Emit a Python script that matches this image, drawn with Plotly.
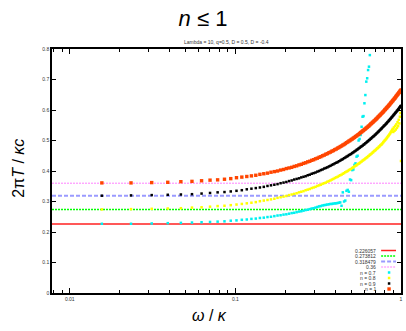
import plotly.graph_objects as go

# ---------------- data ----------------
# omega grid index: omega = k / 128
k_index = list(range(2, 129))
omega = [k / 128 for k in k_index]

series_n07 = [  # cyan, k = 2 .. 83
    0.227, 0.227, 0.228, 0.229, 0.230, 0.231, 0.232, 0.233, 0.234,
    0.235, 0.237, 0.238, 0.240, 0.241, 0.243, 0.244, 0.246, 0.247, 0.249,
    0.250, 0.252, 0.254, 0.255, 0.257, 0.258, 0.260, 0.262, 0.263, 0.265,
    0.267, 0.268, 0.270, 0.272, 0.273, 0.275, 0.277, 0.278, 0.280, 0.282,
    0.284, 0.285, 0.287, 0.288, 0.289, 0.290, 0.291, 0.292, 0.292, 0.293,
    0.294, 0.294, 0.295, 0.296, 0.297, 0.286, 0.330, 0.300, 0.303, 0.335,
    0.338, 0.332, 0.372, 0.370, 0.403, 0.405, 0.420, 0.425, 0.447, 0.450,
    0.500, 0.505, 0.518, 0.545, 0.578, 0.580, 0.622, 0.649, 0.693, 0.704,
    0.731, 0.742, 0.780,
]
series_n08 = [  # yellow
    0.274, 0.275, 0.276, 0.277, 0.278, 0.280, 0.281, 0.283, 0.285,
    0.286, 0.288, 0.290, 0.292, 0.294, 0.296, 0.298, 0.301, 0.303, 0.305,
    0.307, 0.309, 0.312, 0.314, 0.316, 0.318, 0.321, 0.323, 0.325, 0.327,
    0.330, 0.332, 0.334, 0.337, 0.339, 0.341, 0.344, 0.346, 0.348, 0.351,
    0.353, 0.355, 0.358, 0.360, 0.362, 0.365, 0.367, 0.369, 0.372, 0.374,
    0.377, 0.379, 0.381, 0.384, 0.386, 0.388, 0.391, 0.393, 0.396, 0.398,
    0.400, 0.403, 0.405, 0.407, 0.410, 0.412, 0.415, 0.417, 0.419, 0.422,
    0.424, 0.426, 0.429, 0.431, 0.434, 0.436, 0.438, 0.441, 0.443, 0.445,
    0.448, 0.450, 0.453, 0.455, 0.457, 0.460, 0.462, 0.465, 0.467, 0.469,
    0.472, 0.474, 0.476, 0.479, 0.481, 0.484, 0.486, 0.488, 0.491, 0.494,
    0.497, 0.500, 0.502, 0.505, 0.508, 0.511, 0.514, 0.517, 0.520, 0.523,
    0.527, 0.530, 0.534, 0.538, 0.528, 0.543, 0.532, 0.548, 0.536, 0.553,
    0.541, 0.560, 0.547, 0.568, 0.556, 0.578, 0.590, 0.433,
]
series_n09 = [  # black
    0.319, 0.320, 0.321, 0.322, 0.323, 0.324, 0.326, 0.328, 0.330,
    0.331, 0.333, 0.335, 0.337, 0.340, 0.342, 0.344, 0.346, 0.348, 0.351,
    0.353, 0.355, 0.357, 0.360, 0.362, 0.364, 0.367, 0.369, 0.372, 0.374,
    0.376, 0.379, 0.381, 0.383, 0.386, 0.388, 0.391, 0.393, 0.395, 0.398,
    0.400, 0.403, 0.405, 0.408, 0.410, 0.412, 0.415, 0.417, 0.420, 0.422,
    0.425, 0.427, 0.429, 0.432, 0.434, 0.437, 0.439, 0.442, 0.444, 0.447,
    0.449, 0.452, 0.454, 0.456, 0.459, 0.461, 0.464, 0.466, 0.469, 0.471,
    0.474, 0.476, 0.479, 0.481, 0.483, 0.486, 0.488, 0.491, 0.493, 0.496,
    0.498, 0.501, 0.503, 0.506, 0.508, 0.511, 0.513, 0.515, 0.518, 0.520,
    0.523, 0.525, 0.528, 0.530, 0.533, 0.535, 0.538, 0.540, 0.543, 0.545,
    0.548, 0.550, 0.552, 0.555, 0.557, 0.560, 0.562, 0.565, 0.567, 0.570,
    0.572, 0.575, 0.577, 0.580, 0.582, 0.585, 0.587, 0.590, 0.592, 0.594,
    0.597, 0.599, 0.602, 0.604, 0.607, 0.609, 0.612, 0.614,
]
series_n10 = [  # orange
    0.361, 0.361, 0.362, 0.363, 0.365, 0.366, 0.368, 0.370, 0.371,
    0.373, 0.375, 0.378, 0.380, 0.382, 0.384, 0.386, 0.389, 0.391, 0.393,
    0.396, 0.398, 0.400, 0.403, 0.405, 0.408, 0.410, 0.412, 0.415, 0.417,
    0.420, 0.422, 0.425, 0.427, 0.430, 0.432, 0.435, 0.437, 0.440, 0.442,
    0.445, 0.447, 0.450, 0.452, 0.455, 0.457, 0.460, 0.462, 0.465, 0.467,
    0.470, 0.472, 0.475, 0.477, 0.480, 0.482, 0.485, 0.487, 0.490, 0.493,
    0.495, 0.498, 0.500, 0.503, 0.505, 0.508, 0.510, 0.513, 0.515, 0.518,
    0.520, 0.523, 0.526, 0.528, 0.531, 0.533, 0.536, 0.538, 0.541, 0.543,
    0.546, 0.548, 0.551, 0.554, 0.556, 0.559, 0.561, 0.564, 0.566, 0.569,
    0.571, 0.574, 0.577, 0.579, 0.582, 0.584, 0.587, 0.589, 0.592, 0.594,
    0.597, 0.600, 0.602, 0.605, 0.607, 0.610, 0.612, 0.615, 0.617, 0.620,
    0.623, 0.625, 0.628, 0.630, 0.633, 0.635, 0.638, 0.640, 0.643, 0.646,
    0.648, 0.651, 0.653, 0.656, 0.658, 0.661, 0.663, 0.666,
]

hline_values = [0.226057, 0.273812, 0.318479, 0.36]
hline_labels = ["0.226057", "0.273812", "0.318479", "0.36"]
series_labels = ["n = 0.7", "n = 0.8", "n = 0.9", "n = 1"]

x_tick_vals = [0.01, 0.1, 1]
x_tick_text = ["0.01", "0.1", "1"]
y_tick_vals = [0, 0.1, 0.2, 0.3, 0.4, 0.5, 0.6, 0.7, 0.8]
y_tick_text = ["0", "0.1", "0.2", "0.3", "0.4", "0.5", "0.6", "0.7", "0.8"]

# ---------------- styles ----------------
hline_styles = [
    dict(color="#ff2020", width=1.5, dash="solid"),
    dict(color="#00ff00", width=1.3, dash="2px,1px"),
    dict(color="#9a9aff", width=2, dash="4px,2px"),
    dict(color="#ff80ff", width=1, dash="2px,1px"),
]
series_styles = [
    dict(color="#00f0f0", size=2.5),
    dict(color="#ffff00", size=2.5),
    dict(color="#000000", size=2.5),
    dict(color="#ff4500", size=3.4),
]

fig = go.Figure()

for v, st in zip(hline_values, hline_styles):
    fig.add_hline(y=v, line=st, layer="below")

for ys, st in zip([series_n07, series_n08, series_n09, series_n10], series_styles):
    xs = omega[: len(ys)]
    fig.add_trace(go.Scatter(
        x=xs, y=ys, mode="markers", showlegend=False,
        marker=dict(symbol="square", size=st["size"], color=st["color"], line=dict(width=0)),
        hoverinfo="skip",
    ))

# ---------------- custom gnuplot-style key (text left of sample) ----------------
W, H = 406, 331
ml, mr, mt, mb = 52, 3, 49, 38
pw, ph = W - ml - mr, H - mt - mb

def px_x(ix):
    return (ix - ml) / pw

def px_y(iy):
    return (H - mb - iy) / ph

row_y = [250.5 + 5.5 * i for i in range(8)]
all_labels = hline_labels + series_labels
for i, lab in enumerate(all_labels):
    fig.add_annotation(
        x=px_x(380), y=px_y(row_y[i]), xref="paper", yref="paper",
        text=lab, showarrow=False, xanchor="right", yanchor="middle",
        font=dict(size=5, color="#333333", family="Liberation Sans, Arial, sans-serif"),
    )
for i, st in enumerate(hline_styles):
    fig.add_shape(type="line", xref="paper", yref="paper",
                  x0=px_x(383), x1=px_x(398), y0=px_y(row_y[i]), y1=px_y(row_y[i]),
                  line=st)
for j, st in enumerate(series_styles):
    i = j + 4
    half = st["size"] / 2
    fig.add_shape(type="rect", xref="paper", yref="paper",
                  xsizemode="pixel", ysizemode="pixel",
                  xanchor=px_x(391), yanchor=px_y(row_y[i]),
                  x0=-half, x1=half, y0=-half, y1=half,
                  line=dict(width=0), fillcolor=st["color"])

# ---------------- titles ----------------
fig.add_annotation(
    x=0.5, y=px_y(42), xref="paper", yref="paper",
    text="Lambda = 10, q=0.5, D = 0.5, D = -0.4", showarrow=False,
    xanchor="center", yanchor="middle",
    font=dict(size=5, color="#333333", family="Liberation Sans, Arial, sans-serif"),
)
fig.add_annotation(
    x=px_x(17.5), y=px_y(168), xref="paper", yref="paper",
    text="2π<i>T</i> / <i>κc</i>", showarrow=False, textangle=-90,
    xanchor="center", yanchor="middle",
    font=dict(size=16, color="#000000", family="Liberation Sans, Arial, sans-serif"),
)
fig.add_annotation(
    x=px_x(210), y=px_y(315), xref="paper", yref="paper",
    text="<i>ω</i> / <i>κ</i>", showarrow=False,
    xanchor="center", yanchor="middle",
    font=dict(size=16, color="#000000", family="Liberation Sans, Arial, sans-serif"),
)

minor_x = [m * d for d in (0.001, 0.01, 0.1) for m in range(2, 10) if m * d >= 1 / 128]

fig.update_layout(
    width=W, height=H,
    margin=dict(l=ml, r=mr, t=mt, b=mb),
    paper_bgcolor="white", plot_bgcolor="white",
    title=dict(text="<i>n</i> ≤ 1", x=0.5, xref="container", xanchor="center",
               y=1 - 18 / H, yref="container", yanchor="middle",
               font=dict(size=22, color="#000000", family="Liberation Sans, Arial, sans-serif")),
    font=dict(family="Liberation Sans, Arial, sans-serif"),
    xaxis=dict(
        type="log", range=[-2.10721, 0.0], showgrid=False, zeroline=False,
        showline=True, linecolor="black", linewidth=1.5, mirror="allticks",
        ticks="inside", ticklen=5, tickwidth=1, tickcolor="black",
        tickvals=x_tick_vals, ticktext=x_tick_text,
        tickfont=dict(size=5, color="#333333"),
        minor=dict(ticks="inside", ticklen=3, tickwidth=0.8, tickcolor="black",
                   tickvals=minor_x, showgrid=False),
    ),
    yaxis=dict(
        range=[0, 0.8], showgrid=False, zeroline=False,
        showline=True, linecolor="black", linewidth=1.5, mirror="allticks",
        ticks="inside", ticklen=4, tickwidth=1, tickcolor="black",
        tickvals=y_tick_vals, ticktext=y_tick_text,
        tickfont=dict(size=5, color="#333333"),
    ),
)

fig.write_html("out.html")
